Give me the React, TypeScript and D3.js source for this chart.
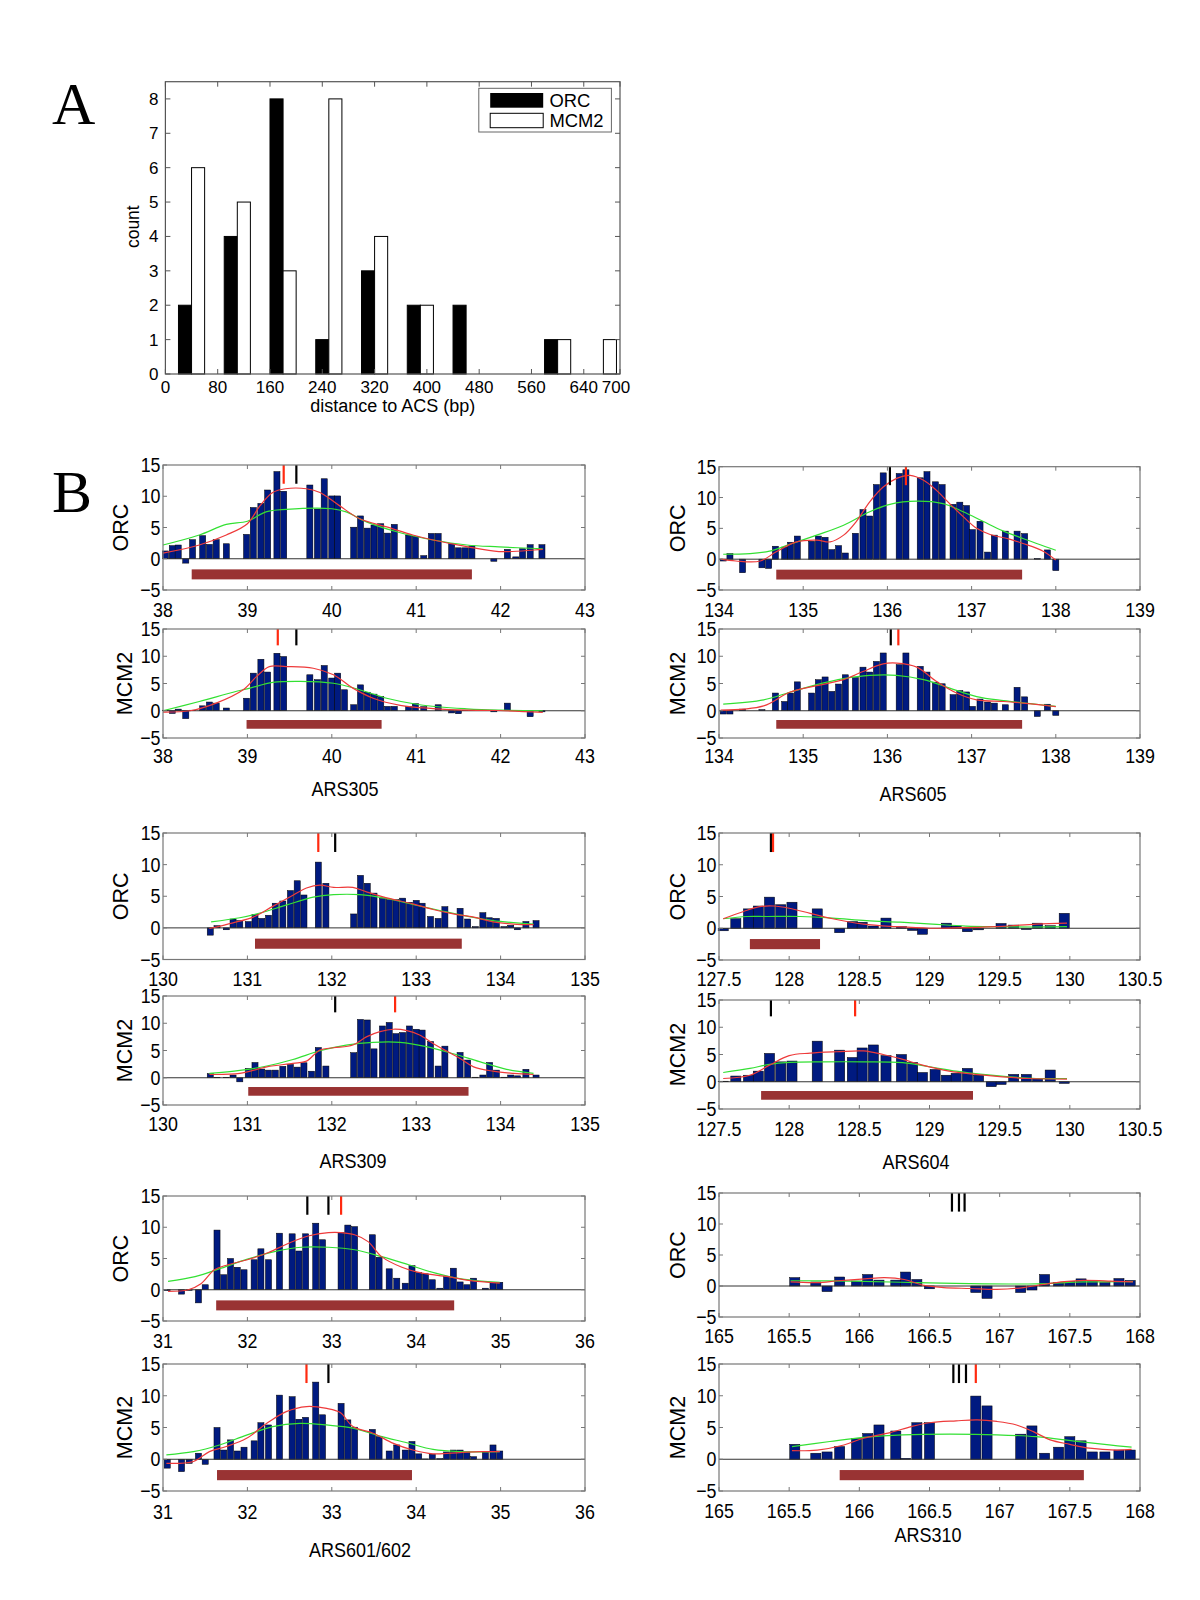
import React from 'react';
import * as d3 from 'd3';

type Pt = [number, number];

// ---------- panel A: histogram of distance to ACS ----------
const binCenters = [40, 110, 180, 250, 320, 390, 460, 530, 600, 670];
const orcCounts = [2, 4, 8, 1, 3, 2, 2, 0, 1, 0];
const mcm2Counts = [6, 5, 3, 8, 4, 2, 0, 0, 1, 1];
const histXTicks = [0, 80, 160, 240, 320, 400, 480, 560, 640, 700];
const histYTicks = [0, 1, 2, 3, 4, 5, 6, 7, 8];

// ---------- panel B: ChIP-chip profiles ----------
const yTicksB = [-5, 0, 5, 10, 15];

// ARS305
const ars305Pos = [38.03, 38.11, 38.18, 38.27, 38.35, 38.47, 38.55, 38.63, 38.75, 38.99, 39.07, 39.16, 39.24, 39.35, 39.43, 39.74, 39.83, 39.91, 40.0, 40.07, 40.15, 40.26, 40.34, 40.42, 40.5, 40.58, 40.66, 40.74, 40.91, 40.99, 41.09, 41.18, 41.26, 41.42, 41.5, 41.58, 41.66, 41.92, 42.08, 42.18, 42.26, 42.35, 42.49];
const ars305Orc = [1.25, 2.1, 2.2, -0.7, 3.05, 3.7, 2.3, 3.05, 2.4, 3.9, 8.2, 8.85, 11.0, 13.95, 10.8, 11.8, 7.95, 12.8, 10.05, 10.05, null, 5.05, 6.85, 4.9, 5.4, 5.6, 4.1, 5.5, 3.8, 3.6, 0.5, 4.05, 4.05, 2.4, 1.75, 1.75, 2.05, -0.4, 1.5, 0.3, 1.6, 2.25, 2.25];
const ars305Mcm = [0.1, -0.5, 0.3, -1.45, 0.1, 0.9, 1.6, 1.4, 0.5, 2.3, 6.9, 9.45, 7.1, 10.55, 9.95, 6.6, 5.7, 8.3, 6.0, 6.9, 3.85, 1.1, 4.75, 3.4, 3.05, 2.6, 0.8, 0.8, 0.8, 1.3, 0.75, null, 1.1, -0.4, -0.55, 0.1, 0.1, -0.2, 1.4, null, null, -1.1, -0.2];
const ars305OrcRed: Pt[] = [[38, 0.9], [38.43, 2.2], [38.75, 3.8], [39, 5.6], [39.15, 8.5], [39.3, 10.6], [39.45, 11.2], [39.7, 11.2], [39.86, 10.6], [40.09, 8.5], [40.33, 6.4], [40.65, 5.1], [40.96, 3.8], [41.2, 3.0], [41.6, 1.95], [41.98, 1.15], [42.4, 1.4], [42.5, 1.5]];
const ars305OrcGreen: Pt[] = [[38, 2.2], [38.43, 3.8], [38.75, 5.5], [39, 6], [39.22, 7.5], [39.46, 7.9], [40, 8], [40.17, 7.5], [40.41, 5.9], [40.8, 4.2], [41.2, 3], [41.6, 2.2], [41.98, 1.9], [42.5, 1.6]];
const ars305McmRed: Pt[] = [[38, -0.25], [38.32, 0], [38.63, 1.4], [38.95, 3.85], [39.11, 6.3], [39.26, 8.1], [39.46, 8.1], [39.78, 7.8], [40.02, 6.6], [40.25, 4.15], [40.49, 2.3], [40.81, 1.0], [41.2, 0.4], [41.6, 0.1], [41.98, 0.05], [42.5, -0.3]];
const ars305McmGreen: Pt[] = [[38, 0], [38.43, 1.7], [38.83, 3.4], [39.03, 4.15], [39.3, 5.2], [39.62, 5.4], [40.02, 5.05], [40.33, 3.85], [40.65, 2.3], [41.04, 1.1], [41.6, 0.35], [41.98, 0.1], [42.5, 0]];

// ARS605
const ars605Pos = [134.05, 134.13, 134.28, 134.51, 134.59, 134.67, 134.78, 134.85, 134.93, 135.1, 135.18, 135.26, 135.34, 135.42, 135.5, 135.62, 135.71, 135.79, 135.87, 135.95, 136.14, 136.22, 136.39, 136.47, 136.57, 136.65, 136.78, 136.86, 136.94, 137.01, 137.1, 137.19, 137.27, 137.4, 137.54, 137.63, 137.78, 137.9, 138.0];
const ars605Orc = [-0.3, 0.9, -2.2, -1.4, -1.5, 2.1, 1.95, 2.75, 3.75, 2.9, 3.75, 3.55, 1.55, 2.2, 1.0, 4.2, 8.05, 7.0, 12.1, 14.0, 13.9, 14.5, 13.2, 14.2, 12.55, 12.1, 8.9, 9.25, 8.7, 4.8, 6.15, 1.15, 3.9, 4.55, 4.55, 4.15, 0.1, 1.5, -1.85];
const ars605Mcm = [-0.6, -0.6, 0.3, 0.2, null, 3.25, 1.7, 3.25, 5.3, 3.25, 5.7, 6.2, 3.55, 4.9, 6.6, 6.1, 8.0, 7.1, 9.05, 10.6, 8.45, 10.6, 8.15, 7.1, 5.25, 4.95, 2.95, 3.7, 3.45, 0.8, 2.15, 1.6, 1.4, 1.1, 4.3, 2.55, -1.05, 1.2, -0.85];
const ars605OrcRed: Pt[] = [[134.02, 0], [134.2, -0.3], [134.49, -0.3], [134.68, 1.2], [134.92, 2.8], [135.16, 3.1], [135.32, 2.8], [135.48, 3.9], [135.63, 6.1], [135.79, 9.3], [135.95, 11.7], [136.11, 13.1], [136.27, 13.6], [136.43, 12.8], [136.58, 11.2], [136.74, 9.0], [136.9, 6.9], [137.06, 5.0], [137.22, 4.0], [137.45, 3.25], [137.61, 2.55], [137.85, 1.3], [138, -0.15]];
const ars605OrcGreen: Pt[] = [[134.05, 0.8], [134.37, 0.9], [134.6, 1.3], [134.84, 2.4], [135.16, 3.9], [135.48, 5.5], [135.79, 7.7], [136.03, 8.9], [136.35, 9.4], [136.66, 9.0], [136.9, 7.7], [137.14, 6.1], [137.38, 4.55], [137.61, 3.35], [138, 1.45]];
const ars605McmRed: Pt[] = [[134.02, 0.1], [134.53, 0.9], [134.84, 3.4], [135.16, 4.6], [135.48, 5.7], [135.71, 7.2], [135.95, 8.6], [136.11, 8.75], [136.35, 8.0], [136.58, 5.4], [136.82, 3.25], [137.06, 2.0], [137.38, 1.7], [137.61, 1.4], [138, 0.75]];
const ars605McmGreen: Pt[] = [[134.05, 1.2], [134.53, 2.0], [134.84, 3.4], [135.16, 4.8], [135.48, 5.9], [135.79, 6.5], [136.11, 6.5], [136.43, 5.7], [136.74, 4.15], [137.06, 2.6], [137.38, 1.85], [137.7, 1.3], [138, 0.8]];

// ARS309
const ars309Pos = [130.56, 130.64, 130.75, 130.83, 130.91, 131.01, 131.09, 131.17, 131.25, 131.33, 131.42, 131.51, 131.59, 131.67, 131.76, 131.84, 131.93, 132.26, 132.34, 132.42, 132.5, 132.6, 132.68, 132.76, 132.84, 132.92, 133.0, 133.07, 133.17, 133.26, 133.34, 133.52, 133.61, 133.7, 133.79, 133.87, 133.95, 134.04, 134.12, 134.2, 134.3, 134.42];
const ars309Orc = [-1.15, 0.35, -0.3, 1.4, 1.15, 1.0, 2.1, 1.5, 2.0, 3.9, 4.25, 5.9, 7.45, 5.2, null, 10.4, 7.05, 2.2, 8.3, 7.05, 5.5, 4.65, 4.45, 4.45, 4.7, 4.05, 4.35, 3.9, 1.8, 1.5, 3.35, 3.1, 1.4, 0.2, 2.4, 1.6, 1.5, 0.2, 0.4, -0.3, 1.0, 1.15];
const ars309Mcm = [0.75, 0.05, 0.05, 0.5, -0.75, 1.7, 2.8, 1.6, 1.4, 1.4, 2.1, 2.45, 1.95, 2.75, 1.2, 5.55, 2.15, 4.6, 10.7, 10.6, 5.3, 9.5, 10.15, 8.1, 8.3, 9.5, 8.9, 8.75, 6.65, 2.15, 5.8, 4.65, 3.25, 0.1, 0.5, 2.8, 1.4, 0.1, 0.5, 0.35, 1.55, 0.5];
const ars309OrcRed: Pt[] = [[130.55, -0.1], [130.83, 0.8], [131.07, 1.7], [131.3, 3.4], [131.54, 5.15], [131.7, 6.3], [131.86, 6.75], [132.02, 6.4], [132.25, 6.4], [132.41, 5.7], [132.65, 4.75], [132.96, 3.8], [133.2, 2.9], [133.44, 2.2], [133.68, 1.7], [133.91, 0.95], [134.15, 0.6], [134.39, 0.5]];
const ars309OrcGreen: Pt[] = [[130.57, 0.95], [130.91, 1.6], [131.15, 2.35], [131.46, 3.6], [131.78, 4.85], [132.02, 5.25], [132.33, 5.25], [132.65, 4.65], [132.96, 3.7], [133.28, 2.75], [133.6, 1.85], [133.91, 1.15], [134.39, 0.6]];
const ars309McmRed: Pt[] = [[130.55, 0.6], [130.91, 0.8], [131.23, 2.0], [131.54, 2.65], [131.7, 3.05], [131.86, 5.1], [132.02, 5.5], [132.25, 6.0], [132.41, 7.5], [132.57, 8.45], [132.73, 8.9], [132.89, 8.65], [133.04, 7.85], [133.2, 6.3], [133.36, 4.9], [133.52, 3.55], [133.68, 2.0], [133.91, 1.2], [134.15, 0.8], [134.39, 0.6]];
const ars309McmGreen: Pt[] = [[130.55, 0.8], [130.91, 1.35], [131.23, 2.15], [131.54, 3.35], [131.86, 4.95], [132.17, 6.0], [132.49, 6.5], [132.81, 6.5], [133.12, 5.7], [133.44, 4.4], [133.75, 2.95], [134.07, 1.55], [134.39, 0.8]];

// ARS604
const ars604Pos = [127.53, 127.62, 127.71, 127.78, 127.86, 127.94, 128.02, 128.2, 128.36, 128.45, 128.52, 128.6, 128.69, 128.8, 128.88, 128.95, 129.04, 129.12, 129.19, 129.27, 129.35, 129.44, 129.51, 129.6, 129.69, 129.77, 129.86, 129.96];
const ars604Orc = [-0.4, 1.5, 3.05, 3.5, 4.9, 3.7, 4.1, 3.05, -0.7, 1.05, 0.95, 0.35, 1.6, 0.25, -0.35, -0.95, null, 0.8, 0.35, -0.55, -0.25, null, 0.75, 0.5, -0.2, 0.8, 0.4, 2.35];
const ars604Mcm = [0.1, 1.05, 1.2, 1.95, 5.2, 3.65, 3.8, 7.45, 5.8, 4.45, 6.2, 6.75, 4.8, 5.0, 3.55, 1.7, 2.25, 1.2, 1.55, 2.45, 1.2, -0.9, -0.5, 1.35, 1.35, 0.6, 2.15, -0.3];
const ars604OrcRed: Pt[] = [[127.53, 1.5], [127.67, 2.6], [127.79, 3.4], [127.89, 3.5], [128, 3.15], [128.15, 2.35], [128.31, 1.5], [128.53, 0.65], [128.76, 0.25], [129, 0], [129.24, 0.1], [129.52, 0.3], [129.76, 0.65], [129.98, 0.8]];
const ars604OrcGreen: Pt[] = [[127.53, 1.5], [127.7, 1.85], [127.84, 1.85], [128.08, 1.85], [128.31, 1.6], [128.55, 1.2], [128.79, 0.95], [129.02, 0.65], [129.26, 0.35], [129.5, 0.25], [129.73, 0.2], [129.98, 0.25]];
const ars604McmRed: Pt[] = [[127.53, 0.6], [127.72, 1.2], [127.86, 3.05], [128, 4.8], [128.15, 5.25], [128.34, 5.5], [128.53, 5.65], [128.67, 5.0], [128.81, 4.1], [128.95, 3.05], [129.14, 1.95], [129.33, 1.35], [129.52, 0.9], [129.71, 0.6], [129.98, 0.5]];
const ars604McmGreen: Pt[] = [[127.53, 1.7], [127.72, 2.45], [127.86, 3.2], [128, 3.55], [128.24, 3.65], [128.53, 3.65], [128.81, 3.5], [129, 2.75], [129.19, 1.95], [129.38, 1.35], [129.57, 0.9], [129.76, 0.6], [129.98, 0.6]];

// ARS601/602
const ars601Pos = [31.05, 31.22, 31.31, 31.42, 31.5, 31.64, 31.72, 31.8, 31.88, 31.96, 32.08, 32.16, 32.25, 32.38, 32.53, 32.61, 32.69, 32.81, 32.89, 33.11, 33.19, 33.27, 33.48, 33.56, 33.68, 33.77, 33.87, 33.95, 34.03, 34.11, 34.19, 34.28, 34.36, 34.44, 34.52, 34.6, 34.68, 34.82, 34.91, 34.99];
const ars601Orc = [-0.15, -0.7, -0.1, -2.1, 0.8, 9.55, 2.4, 5.0, 3.6, 3.2, 4.8, 6.55, 4.8, 9.05, 8.95, 6.2, 8.95, 10.65, 8.0, 9.15, 10.35, 10.1, 8.8, 5.2, 3.35, 1.85, 1.05, 3.85, 2.75, 2.55, 1.6, 0.25, 2.1, 3.45, 1.25, 0.8, 1.85, 0.25, 1.2, 1.2];
const ars601Mcm = [-1.4, -1.95, -0.65, 0.95, -0.8, 5.0, 1.45, 3.05, 1.3, 1.9, 2.9, 5.75, 5.4, 10.1, 9.85, 6.3, 6.6, 12.15, 7.0, 8.8, 6.2, 5.05, 4.7, 3.55, 1.3, 2.25, 1.45, 2.8, 0.85, 0.05, 0.8, 0.1, 1.15, 1.45, 1.45, 1.15, 0.4, 1.15, 2.25, 1.3];
const ars601OrcRed: Pt[] = [[31.06, -0.25], [31.3, 0], [31.45, 0.95], [31.61, 3.2], [31.77, 4.0], [32, 4.8], [32.25, 5.95], [32.49, 7.45], [32.72, 8.6], [32.96, 9.15], [33.11, 9.15], [33.27, 8.8], [33.43, 7.7], [33.59, 5.3], [33.83, 3.6], [34.07, 2.65], [34.38, 2.1], [34.62, 1.5], [34.99, 1.05]];
const ars601OrcGreen: Pt[] = [[31.06, 1.35], [31.38, 2.1], [31.69, 3.45], [32, 4.9], [32.32, 6.1], [32.64, 6.8], [32.96, 6.8], [33.27, 6.4], [33.59, 5.3], [33.91, 4.0], [34.23, 2.65], [34.55, 1.7], [34.99, 1.2]];
const ars601McmRed: Pt[] = [[31.04, -0.65], [31.36, -0.35], [31.55, 1.2], [31.75, 2.0], [31.99, 3.3], [32.23, 5.65], [32.46, 7.5], [32.7, 8.3], [32.94, 8.0], [33.1, 7.35], [33.25, 5.15], [33.49, 4.1], [33.73, 2.5], [33.96, 1.45], [34.2, 0.85], [34.52, 1.05], [34.76, 1.2], [34.99, 1.2]];
const ars601McmGreen: Pt[] = [[31.04, 0.7], [31.36, 1.2], [31.67, 2.25], [31.99, 3.8], [32.3, 5.15], [32.62, 5.65], [32.94, 5.4], [33.25, 4.9], [33.57, 3.65], [33.89, 2.6], [34.2, 1.55], [34.52, 1.2], [34.99, 1.2]];

// ARS310
const ars310Pos = [165.54, 165.69, 165.77, 165.86, 165.98, 166.06, 166.14, 166.26, 166.33, 166.41, 166.5, 166.83, 166.91, 167.15, 167.23, 167.32, 167.42, 167.5, 167.58, 167.66, 167.75, 167.85, 167.93];
const ars310Orc = [1.35, 0.65, -0.9, 1.45, 0.8, 1.85, 0.95, 0.95, 2.25, 1.05, -0.45, -1.05, -2.0, -1.05, -0.65, 1.85, 0.55, 0.75, 1.15, 0.85, 0.55, 1.2, 0.9];
const ars310Mcm = [2.35, 0.95, 1.15, 2.0, 3.25, 4.05, 5.4, 4.45, 0.15, 5.75, 5.75, 9.95, 8.4, 3.95, 5.25, 0.95, 1.9, 3.55, 2.9, 1.15, 1.15, 1.45, 1.45];
const ars310OrcRed: Pt[] = [[165.51, 0.65], [165.7, 0.55], [165.85, 0.85], [166.04, 1.15], [166.18, 1.35], [166.32, 1.05], [166.46, 0.1], [166.6, -0.25], [166.79, -0.4], [166.98, -0.55], [167.17, -0.25], [167.31, 0.25], [167.46, 0.7], [167.6, 0.9], [167.79, 0.8], [167.95, 0.65]];
const ars310OrcGreen: Pt[] = [[165.51, 0.85], [165.94, 0.8], [166.41, 0.55], [166.89, 0.35], [167.27, 0.35], [167.6, 0.65], [167.95, 0.7]];
const ars310McmRed: Pt[] = [[165.52, 1.35], [165.7, 1.45], [165.89, 2.25], [166.03, 3.3], [166.22, 4.2], [166.37, 5.15], [166.5, 5.75], [166.69, 6.05], [166.84, 6.2], [166.98, 5.95], [167.12, 5.4], [167.24, 4.35], [167.36, 3.05], [167.5, 2.35], [167.64, 1.75], [167.83, 1.45], [167.94, 1.55]];
const ars310McmGreen: Pt[] = [[165.52, 2.0], [165.79, 2.8], [166.03, 3.45], [166.31, 3.85], [166.65, 3.95], [166.98, 3.85], [167.26, 3.55], [167.55, 2.8], [167.78, 2.25], [167.94, 1.9]];

const FONT = '"Liberation Sans", Arial, Helvetica, sans-serif';
const BAR = '#001a80';
const BROWN = '#993333';
const RED = '#ee3a3a';
const GREEN = '#33e033';
const FRAME = '#777';

interface TrackProps {
  box: [number, number, number, number];
  domain: [number, number];
  ticks: number[];
  pos: number[];
  vals: (number | null)[];
  red: Pt[];
  green: Pt[];
  blackMarks: number[];
  redMarks: number[];
  site: [number, number] | null;
  label: string;
  labelX: number;
  tickGap?: number;
}

const Track = ({ box, domain, ticks, pos, vals, red, green, blackMarks, redMarks, site, label, labelX, tickGap = 19 }: TrackProps) => {
  const [x0, y0, x1, y1] = box;
  const x = d3.scaleLinear().domain(domain).range([x0, x1]);
  const y = d3.scaleLinear().domain([-5, 15]).range([y1, y0]);
  const bw = x(domain[0] + 0.072) - x(domain[0]);
  const curve = d3.line<Pt>().x((d) => x(d[0])).y((d) => y(d[1])).curve(d3.curveCatmullRom.alpha(0.5));
  const tl = 4;
  return (
    <g>
      {pos.map((p, i) => {
        const v = vals[i];
        if (v == null) return null;
        return (
          <rect key={i} x={x(p) - bw / 2} y={y(Math.max(0, v))} width={bw}
            height={Math.abs(y(v) - y(0))} fill={BAR} stroke="#000" strokeWidth={0.5} />
        );
      })}
      <line x1={x0} x2={x1} y1={y(0)} y2={y(0)} stroke="#333" strokeWidth={1} />
      <path d={curve(green) || ''} fill="none" stroke={GREEN} strokeWidth={1.2} />
      <path d={curve(red) || ''} fill="none" stroke={RED} strokeWidth={1.2} />
      {site && (
        <rect x={x(site[0])} y={y(-1.7)} width={x(site[1]) - x(site[0])} height={y(-3.3) - y(-1.7)} fill={BROWN} />
      )}
      {blackMarks.map((m, i) => (
        <line key={'b' + i} x1={x(m)} x2={x(m)} y1={y(15)} y2={y(12)} stroke="#000" strokeWidth={2.2} />
      ))}
      {redMarks.map((m, i) => (
        <line key={'r' + i} x1={x(m)} x2={x(m)} y1={y(15)} y2={y(12)} stroke="#ff2a10" strokeWidth={2.2} />
      ))}
      <rect x={x0} y={y0} width={x1 - x0} height={y1 - y0} fill="none" stroke={FRAME} strokeWidth={1.2} />
      {ticks.map((t) => (
        <g key={'xt' + t}>
          <line x1={x(t)} x2={x(t)} y1={y1} y2={y1 - tl} stroke={FRAME} />
          <line x1={x(t)} x2={x(t)} y1={y0} y2={y0 + tl} stroke={FRAME} />
          <text transform={`translate(${x(t)},${y1 + tickGap + 7}) scale(0.87,1)`} textAnchor="middle"
            fontSize={20.5} fontFamily={FONT} fill="#000">{String(t)}</text>
        </g>
      ))}
      {yTicksB.map((t) => (
        <g key={'yt' + t}>
          <line x1={x0} x2={x0 + tl} y1={y(t)} y2={y(t)} stroke={FRAME} />
          <line x1={x1} x2={x1 - tl} y1={y(t)} y2={y(t)} stroke={FRAME} />
          <text transform={`translate(${x0 - 2.5},${y(t) + 7}) scale(0.87,1)`} textAnchor="end"
            fontSize={20.5} fontFamily={FONT} fill="#000">{t < 0 ? '\u2212' + Math.abs(t) : String(t)}</text>
        </g>
      ))}
      <text transform={`translate(${labelX},${(y0 + y1) / 2}) rotate(-90)`} dy="0.36em" textAnchor="middle"
        fontSize={21.5} fontFamily={FONT} fill="#000">{label}</text>
    </g>
  );
};

const LEFT: [number, number] = [163, 585];
const RIGHT: [number, number] = [719, 1140];

const regions = [
  { name: 'ARS305', col: LEFT, nameX: 345, nameY: 796, orcY: [465, 590], mcmY: [629, 738], gapO: 20, gapM: 18,
    domain: [38, 43] as [number, number], ticks: [38, 39, 40, 41, 42, 43], pos: ars305Pos, orc: ars305Orc, mcm: ars305Mcm,
    orcRed: ars305OrcRed, orcGreen: ars305OrcGreen, mcmRed: ars305McmRed, mcmGreen: ars305McmGreen,
    orcBlack: [39.58], orcRedM: [39.43], mcmBlack: [39.58], mcmRedM: [39.36],
    orcSite: [38.34, 41.66] as [number, number], mcmSite: [38.99, 40.59] as [number, number] },
  { name: 'ARS605', col: RIGHT, nameX: 913, nameY: 801, orcY: [466.7, 590], mcmY: [629, 738], gapO: 20, gapM: 18,
    domain: [134, 139] as [number, number], ticks: [134, 135, 136, 137, 138, 139], pos: ars605Pos, orc: ars605Orc, mcm: ars605Mcm,
    orcRed: ars605OrcRed, orcGreen: ars605OrcGreen, mcmRed: ars605McmRed, mcmGreen: ars605McmGreen,
    orcBlack: [136.03], orcRedM: [136.22], mcmBlack: [136.04], mcmRedM: [136.13],
    orcSite: [134.68, 137.6] as [number, number], mcmSite: [134.68, 137.6] as [number, number] },
  { name: 'ARS309', col: LEFT, nameX: 353, nameY: 1168, orcY: [833, 959.5], mcmY: [996, 1105], gapO: 19, gapM: 19,
    domain: [130, 135] as [number, number], ticks: [130, 131, 132, 133, 134, 135], pos: ars309Pos, orc: ars309Orc, mcm: ars309Mcm,
    orcRed: ars309OrcRed, orcGreen: ars309OrcGreen, mcmRed: ars309McmRed, mcmGreen: ars309McmGreen,
    orcBlack: [132.04], orcRedM: [131.84], mcmBlack: [132.04], mcmRedM: [132.75],
    orcSite: [131.09, 133.54] as [number, number], mcmSite: [131.01, 133.62] as [number, number] },
  { name: 'ARS604', col: RIGHT, nameX: 916, nameY: 1169, orcY: [833, 960], mcmY: [1000, 1109], gapO: 19, gapM: 19.5,
    domain: [127.5, 130.5] as [number, number], ticks: [127.5, 128, 128.5, 129, 129.5, 130, 130.5], pos: ars604Pos, orc: ars604Orc, mcm: ars604Mcm,
    orcRed: ars604OrcRed, orcGreen: ars604OrcGreen, mcmRed: ars604McmRed, mcmGreen: ars604McmGreen,
    orcBlack: [127.87], orcRedM: [127.885], mcmBlack: [127.87], mcmRedM: [128.47],
    orcSite: [127.72, 128.22] as [number, number], mcmSite: [127.8, 129.31] as [number, number] },
  { name: 'ARS601/602', col: LEFT, nameX: 360, nameY: 1557, orcY: [1196, 1321], mcmY: [1364, 1491], gapO: 20, gapM: 21,
    domain: [31, 36] as [number, number], ticks: [31, 32, 33, 34, 35, 36], pos: ars601Pos, orc: ars601Orc, mcm: ars601Mcm,
    orcRed: ars601OrcRed, orcGreen: ars601OrcGreen, mcmRed: ars601McmRed, mcmGreen: ars601McmGreen,
    orcBlack: [32.71, 32.96], orcRedM: [33.11], mcmBlack: [32.96], mcmRedM: [32.7],
    orcSite: [31.63, 34.45] as [number, number], mcmSite: [31.64, 33.95] as [number, number] },
  { name: 'ARS310', col: RIGHT, nameX: 928, nameY: 1542, orcY: [1193, 1317], mcmY: [1364, 1491], gapO: 19, gapM: 20,
    domain: [165, 168] as [number, number], ticks: [165, 165.5, 166, 166.5, 167, 167.5, 168], pos: ars310Pos, orc: ars310Orc, mcm: ars310Mcm,
    orcRed: ars310OrcRed, orcGreen: ars310OrcGreen, mcmRed: ars310McmRed, mcmGreen: ars310McmGreen,
    orcBlack: [166.66, 166.71, 166.75], orcRedM: [], mcmBlack: [166.67, 166.71, 166.76], mcmRedM: [166.83],
    orcSite: null, mcmSite: [165.86, 167.6] as [number, number] },
];

const Histogram = () => {
  const x0 = 165.4, x1 = 620, y0 = 81.7, y1 = 374;
  const x = d3.scaleLinear().domain([0, 700]).range([x0, 623]);
  const y = d3.scaleLinear().domain([0, 8.5]).range([y1, y0]);
  const tl = 5;
  return (
    <g>
      {binCenters.map((c, i) => (
        <g key={c}>
          <rect x={x(c - 20)} y={y(orcCounts[i])} width={x(c) - x(c - 20)} height={y(0) - y(orcCounts[i])}
            fill="#000" stroke="#000" strokeWidth={1} />
          <rect x={x(c)} y={y(mcm2Counts[i])} width={x(c + 20) - x(c)} height={y(0) - y(mcm2Counts[i])}
            fill="#fff" stroke="#000" strokeWidth={1} />
        </g>
      ))}
      <rect x={x0} y={y0} width={x1 - x0} height={y1 - y0} fill="none" stroke="#555" strokeWidth={1.2} />
      {histXTicks.map((t) => {
        const tx = Math.min(x(t), x1);
        return (
          <g key={'hx' + t}>
            <line x1={tx} x2={tx} y1={y1} y2={y1 - tl} stroke="#555" />
            <line x1={tx} x2={tx} y1={y0} y2={y0 + tl} stroke="#555" />
            <text x={t === 700 ? x(t) - 7 : x(t)} y={y1 + 19} textAnchor="middle" fontSize={17} fontFamily={FONT}>{t}</text>
          </g>
        );
      })}
      {histYTicks.map((t) => (
        <g key={'hy' + t}>
          <line x1={x0} x2={x0 + tl} y1={y(t)} y2={y(t)} stroke="#555" />
          <line x1={x1} x2={x1 - tl} y1={y(t)} y2={y(t)} stroke="#555" />
          <text x={x0 - 7} y={y(t) + 6} textAnchor="end" fontSize={17} fontFamily={FONT}>{t}</text>
        </g>
      ))}
      <text x={392.7} y={412} textAnchor="middle" fontSize={18} fontFamily={FONT}>distance to ACS (bp)</text>
      <text transform={`translate(132.7,226.7) rotate(-90)`} dy="0.35em" textAnchor="middle" fontSize={17.5} fontFamily={FONT}>count</text>
      <rect x={478.8} y={88.3} width={132.6} height={43.7} fill="#fff" stroke="#666" strokeWidth={1} />
      <rect x={490.2} y={93} width={53} height={14.7} fill="#000" />
      <rect x={490.2} y={113.3} width={53} height={14.4} fill="#fff" stroke="#000" strokeWidth={1} />
      <text x={549.4} y={106.5} fontSize={18.4} fontFamily={FONT}>ORC</text>
      <text x={549.4} y={126.5} fontSize={18.4} fontFamily={FONT}>MCM2</text>
    </g>
  );
};

const App = () => {
  return (
    <svg width={1200} height={1600} style={{ position: 'absolute', left: 0, top: 0, background: '#fff' }}>
      <rect x={0} y={0} width={1200} height={1600} fill="#fff" />
      <text x={52} y={124} fontSize={60} fontFamily='"Liberation Serif", "Times New Roman", serif'>A</text>
      <text x={52} y={512} fontSize={60} fontFamily='"Liberation Serif", "Times New Roman", serif'>B</text>
      <Histogram />
      {regions.map((r) => {
        const labelXO = r.col === LEFT ? 120.7 : 677;
        const labelXM = r.col === LEFT ? 124.5 : 677.5;
        return (
          <g key={r.name}>
            <Track box={[r.col[0], r.orcY[0], r.col[1], r.orcY[1]]} domain={r.domain} ticks={r.ticks}
              pos={r.pos} vals={r.orc} red={r.orcRed} green={r.orcGreen}
              blackMarks={r.orcBlack} redMarks={r.orcRedM} site={r.orcSite}
              label="ORC" labelX={labelXO} tickGap={r.gapO} />
            <Track box={[r.col[0], r.mcmY[0], r.col[1], r.mcmY[1]]} domain={r.domain} ticks={r.ticks}
              pos={r.pos} vals={r.mcm} red={r.mcmRed} green={r.mcmGreen}
              blackMarks={r.mcmBlack} redMarks={r.mcmRedM} site={r.mcmSite}
              label="MCM2" labelX={labelXM} tickGap={r.gapM} />
            <text transform={`translate(${r.nameX},${r.nameY}) scale(0.9,1)`} textAnchor="middle"
              fontSize={20} fontFamily={FONT}>{r.name}</text>
          </g>
        );
      })}
    </svg>
  );
};

export default App;
